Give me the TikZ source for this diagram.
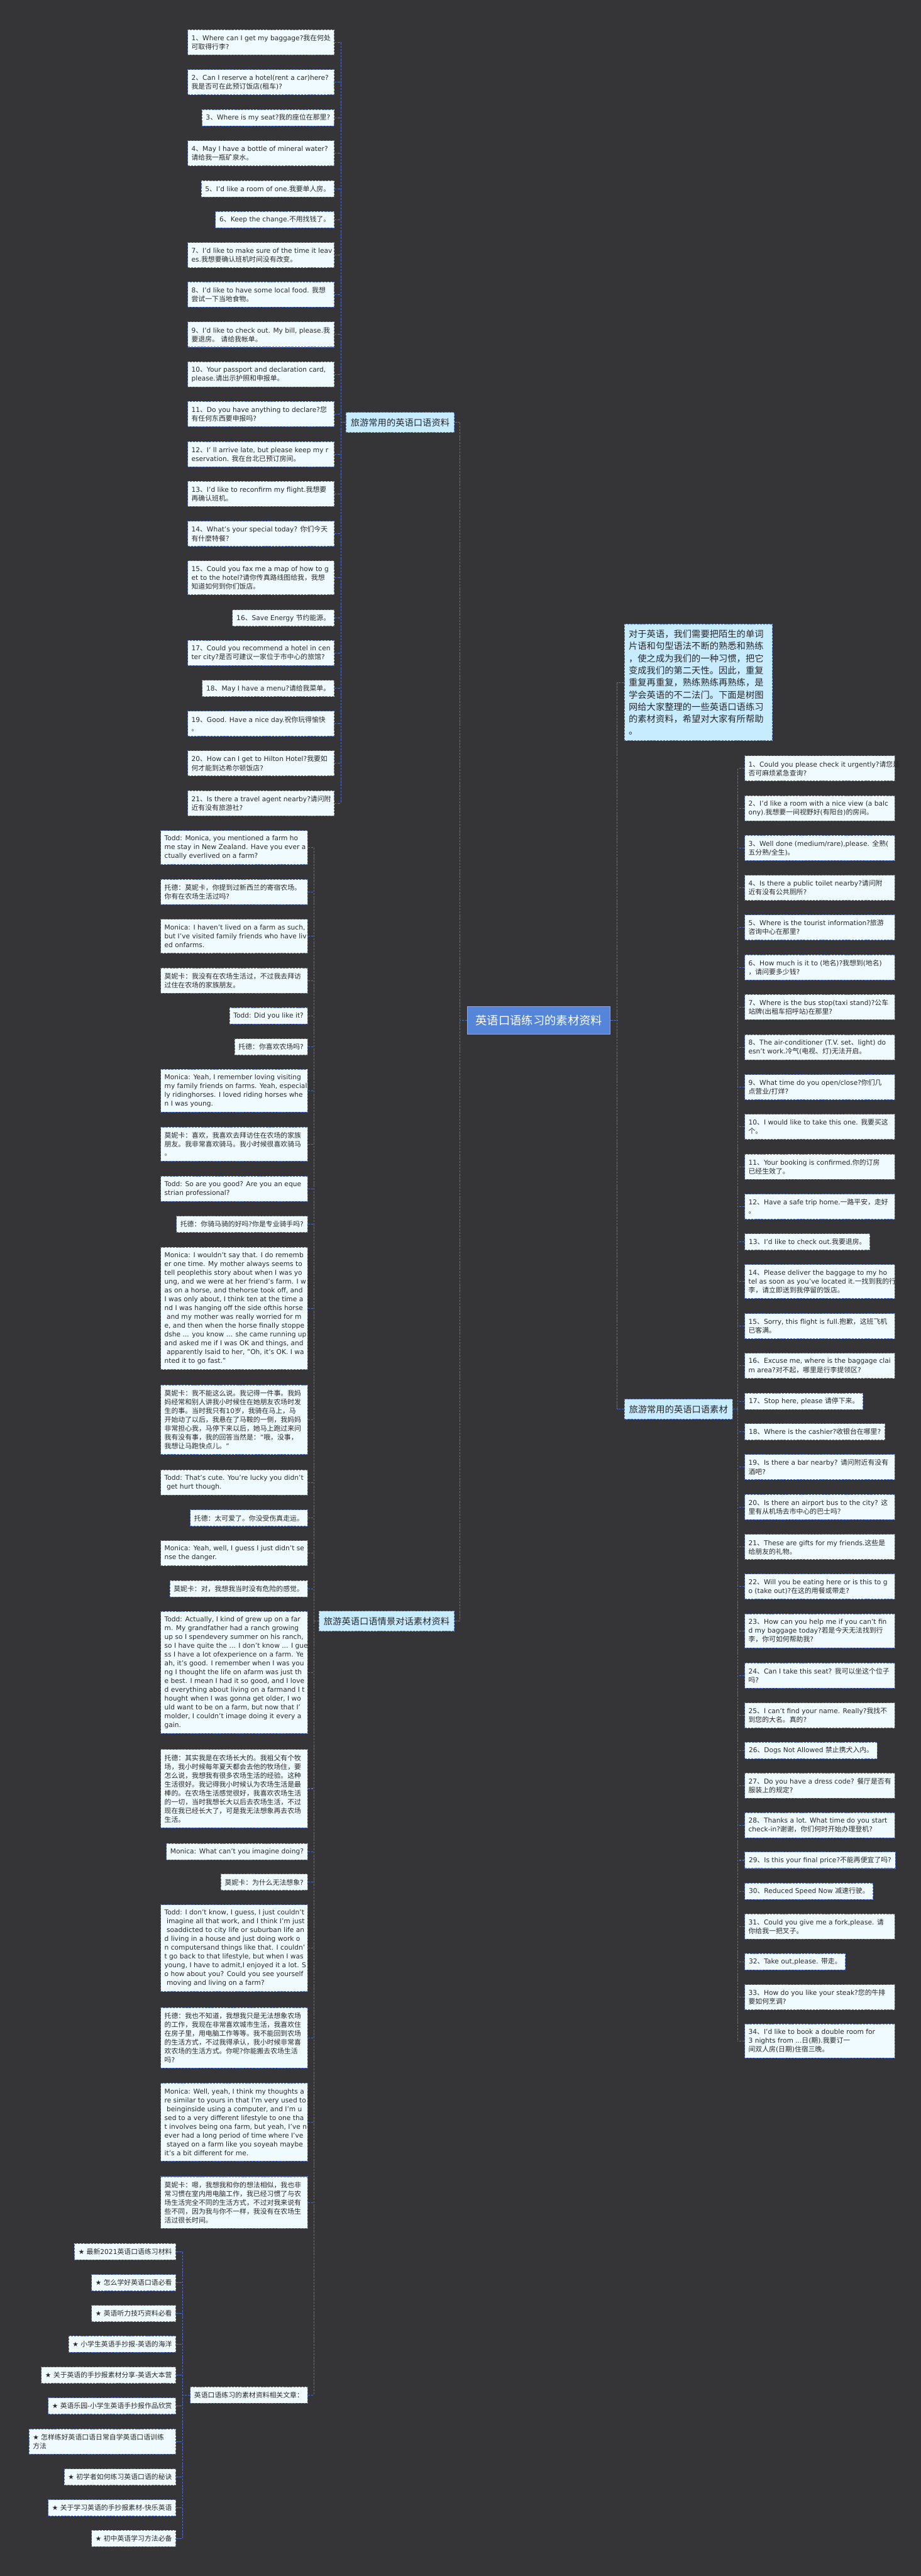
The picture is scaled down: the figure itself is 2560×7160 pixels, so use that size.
\documentclass[tikz,border=0pt]{standalone}
\usepackage{fontspec}
\setmainfont{DejaVu Sans}[Scale=0.98]
\newfontfamily\cjkfont{Noto Sans CJK SC}
\usetikzlibrary{calc}
\XeTeXinterchartokenstate=1
\chardef\cjkcls=8
\makeatletter
\def\setcjkrange#1#2{\count@=#1\relax\loop\XeTeXcharclass\count@=\cjkcls\relax\ifnum\count@<#2\relax\advance\count@\@ne\repeat}
\makeatother
\setcjkrange{"2E80}{"9FFF}
\setcjkrange{"FF00}{"FFEF}
\XeTeXcharclass"2019=0
\XeTeXcharclass"2605=0
\XeTeXcharclass"201C=0
\XeTeXcharclass"201D=0
\XeTeXinterchartoks 0 \cjkcls={\begingroup\cjkfont}
\XeTeXinterchartoks 4095 \cjkcls={\begingroup\cjkfont}
\XeTeXinterchartoks \cjkcls 0={\endgroup}
\XeTeXinterchartoks \cjkcls 4095={\endgroup}
\definecolor{bgc}{RGB}{53,52,55}
\definecolor{leafc}{RGB}{240,251,255}
\definecolor{bordc}{RGB}{78,110,200}
\definecolor{branchc}{RGB}{200,236,255}
\definecolor{centc}{RGB}{84,133,216}
\definecolor{txtc}{RGB}{40,40,40}
\tikzset{
 lbox/.style={draw=bordc, fill=leafc, line width=1.8pt, dash pattern=on 6pt off 3pt, inner sep=0pt},
 ltxt/.style={font=\fontsize{19}{24.5}\selectfont, text=txtc, align=left, inner sep=0pt},
 conn/.style={draw=bordc, line width=1.8pt, dash pattern=on 6pt off 3pt},
 brbox/.style={lbox, fill=branchc, font=\fontsize{25}{30}\selectfont, text=txtc, inner xsep=13pt, minimum height=56pt},
 cbox/.style={draw=bordc!60!white, fill=centc, line width=1.8pt, font=\fontsize{32}{38}\selectfont, text=white, minimum width=397pt, minimum height=78pt},
}
% multi-line leaf, right anchored
\newcommand\mlL[6]{%
 \pgfmathsetmacro\hh{21+24.5*#5}%
 \node[lbox, minimum width=#4, minimum height=\hh, anchor=north east] (#1) at (#2,#3) {};
 \node[ltxt, anchor=west] (#1t) at ($(#1.west)+(11,0)$) {#6};}
% single-line leaf, right anchored
\newcommand\slL[4]{%
 \node[lbox, ltxt, inner xsep=11pt, minimum height=45.5pt, anchor=north east] (#1) at (#2,#3) {#4};}
% multi-line leaf, left anchored
\newcommand\mlR[6]{%
 \pgfmathsetmacro\hh{21+24.5*#5}%
 \node[lbox, minimum width=#4, minimum height=\hh, anchor=north west] (#1) at (#2,#3) {};
 \node[ltxt, anchor=west] (#1t) at ($(#1.west)+(11,0)$) {#6};}
\newcommand\slR[4]{%
 \node[lbox, ltxt, inner xsep=11pt, minimum height=45.5pt, anchor=north west] (#1) at (#2,#3) {#4};}
\begin{document}
\begin{tikzpicture}[x=1pt,y=-1pt]
\useasboundingbox (0,0) rectangle (2560,7160);
\fill[bgc] (0,0) rectangle (2560,7160);
\coordinate (b1) at (948,0);
\coordinate (cl) at (1278,0);
\coordinate (cr) at (1716,0);
\coordinate (b2) at (2052,0);
\coordinate (b3) at (873,0);
\coordinate (b4) at (508,0);

% ---------- centre and branches
\node[cbox] (center) at (1498.5,2836) {英语口语练习的素材资料};
\node[brbox, anchor=east] (br1) at (1264,1174) {旅游常用的英语口语资料};
\node[brbox, anchor=east] (br3) at (1264,4506) {旅游英语口语情景对话素材资料};
\node[brbox, anchor=west] (br2) at (1735,3917) {旅游常用的英语口语素材};
\node[lbox, fill=branchc, minimum width=412, minimum height=324, anchor=north west] (intro) at (1735,1734) {};
\node[ltxt, font=\fontsize{25}{33.7}\selectfont, anchor=west] (introt) at ($(intro.west)+(13,0)$) {对于英语，我们需要把陌生的单词\\片语和句型语法不断的熟悉和熟练\\，使之成为我们的一种习惯，把它\\变成我们的第二天性。因此，重复\\重复再重复，熟练熟练再熟练，是\\学会英语的不二法门。下面是树图\\网给大家整理的一些英语口语练习\\的素材资料，希望对大家有所帮助\\。};

% ---------- group 1
\mlL{g1n1}{930}{82}{407}{2}{1、Where can I get my baggage?我在何处\\可取得行李?}
\mlL{g1n2}{930}{193}{407}{2}{2、Can I reserve a hotel(rent a car)here?\\我是否可在此预订饭店(租车)?}
\slL{g1n3}{930}{304}{3、Where is my seat?我的座位在那里?}
\mlL{g1n4}{930}{390}{407}{2}{4、May I have a bottle of mineral water?\\请给我一瓶矿泉水。}
\slL{g1n5}{930}{501}{5、I'd like a room of one.我要单人房。}
\slL{g1n6}{930}{587}{6、Keep the change.不用找钱了。}
\mlL{g1n7}{930}{673}{407}{2}{7、I'd like to make sure of the time it leav\\es.我想要确认班机时间没有改变。}
\mlL{g1n8}{930}{783}{407}{2}{8、I'd like to have some local food. 我想\\尝试一下当地食物。}
\mlL{g1n9}{930}{894}{407}{2}{9、I'd like to check out. My bill, please.我\\要退房。 请给我帐单。}
\mlL{g1n10}{930}{1005}{407}{2}{10、Your passport and declaration card,\\please.请出示护照和申报单。}
\mlL{g1n11}{930}{1115}{407}{2}{11、Do you have anything to declare?您\\有任何东西要申报吗?}
\mlL{g1n12}{930}{1227}{407}{2}{12、I’ ll arrive late, but please keep my r\\eservation. 我在台北已预订房间。}
\mlL{g1n13}{930}{1337}{407}{2}{13、I'd like to reconfirm my flight.我想要\\再确认班机。}
\mlL{g1n14}{930}{1448}{407}{2}{14、What's your special today? 你们今天\\有什麼特餐？}
\mlL{g1n15}{930}{1558}{407}{3}{15、Could you fax me a map of how to g\\et to the hotel?请你传真路线图给我，我想\\知道如何到你们饭店。}
\slL{g1n16}{930}{1694}{16、Save Energy 节约能源。}
\mlL{g1n17}{930}{1779}{407}{2}{17、Could you recommend a hotel in cen\\ter city?是否可建议一家位于市中心的旅馆?}
\slL{g1n18}{930}{1890}{18、May I have a menu?请给我菜单。}
\mlL{g1n19}{930}{1976}{407}{2}{19、Good. Have a nice day.祝你玩得愉快\\。}
\mlL{g1n20}{930}{2086}{407}{2}{20、How can I get to Hilton Hotel?我要如\\何才能到达希尔顿饭店?}
\mlL{g1n21}{930}{2197}{407}{2}{21、Is there a travel agent nearby?请问附\\近有没有旅游社?}

% ---------- group 3 (dialogue)
\mlL{d1}{856}{2308}{408}{3}{Todd: Monica, you mentioned a farm ho\\me stay in New Zealand. Have you ever a\\ctually everlived on a farm?}
\mlL{d2}{856}{2443}{408}{2}{托德：莫妮卡，你提到过新西兰的寄宿农场。\\你有在农场生活过吗?}
\mlL{d3}{856}{2554}{408}{3}{Monica: I haven't lived on a farm as such,\\but I've visited family friends who have liv\\ed onfarms.}
\mlL{d4}{856}{2690}{408}{2}{莫妮卡：我没有在农场生活过，不过我去拜访\\过住在农场的家族朋友。}
\slL{d5}{856}{2800}{Todd: Did you like it?}
\slL{d6}{856}{2886}{托德：你喜欢农场吗?}
\mlL{d7}{856}{2971}{408}{4}{Monica: Yeah, I remember loving visiting\\my family friends on farms. Yeah, especial\\ly ridinghorses. I loved riding horses whe\\n I was young.}
\mlL{d8}{856}{3132}{408}{3}{莫妮卡：喜欢，我喜欢去拜访住在农场的家族\\朋友。我非常喜欢骑马。我小时候很喜欢骑马\\。}
\mlL{d9}{856}{3268}{408}{2}{Todd: So are you good? Are you an eque\\strian professional?}
\slL{d10}{856}{3379}{托德：你骑马骑的好吗?你是专业骑手吗?}
\mlL{d11}{856}{3466}{408}{13}{Monica: I wouldn't say that. I do rememb\\er one time. My mother always seems to\\tell peoplethis story about when I was yo\\ung, and we were at her friend's farm. I w\\as on a horse, and thehorse took off, and\\I was only about, I think ten at the time a\\nd I was hanging off the side ofthis horse\\\ and my mother was really worried for m\\e, and then when the horse finally stoppe\\dshe ... you know ... she came running up\\and asked me if I was OK and things, and\\\ apparently Isaid to her, "Oh, it's OK. I wa\\nted it to go fast."}
\mlL{d12}{856}{3849}{408}{7}{莫妮卡：我不能这么说。我记得一件事。我妈\\妈经常和别人讲我小时候住在她朋友农场时发\\生的事。当时我只有10岁，我骑在马上，马\\开始动了以后，我悬在了马鞍的一侧，我妈妈\\非常担心我，马停下来以后，她马上跑过来问\\我有没有事，我的回答当然是："哦，没事，\\我想让马跑快点儿。"}
\mlL{d13}{856}{4085}{408}{2}{Todd: That's cute. You're lucky you didn't\\\ get hurt though.}
\slL{d14}{856}{4196}{托德：太可爱了。你没受伤真走运。}
\mlL{d15}{856}{4281}{408}{2}{Monica: Yeah, well, I guess I just didn't se\\nse the danger.}
\slL{d16}{856}{4392}{莫妮卡：对，我想我当时没有危险的感觉。}
\mlL{d17}{856}{4478}{408}{13}{Todd: Actually, I kind of grew up on a far\\m. My grandfather had a ranch growing\\up so I spendevery summer on his ranch,\\so I have quite the ... I don't know ... I gue\\ss I have a lot ofexperience on a farm. Ye\\ah, it's good. I remember when I was you\\ng I thought the life on afarm was just th\\e best. I mean I had it so good, and I love\\d everything about living on a farmand I t\\hought when I was gonna get older, I wo\\uld want to be on a farm, but now that I'\\molder, I couldn't image doing it every a\\gain.}
\mlL{d18}{856}{4862}{408}{8}{托德：其实我是在农场长大的。我祖父有个牧\\场，我小时候每年夏天都会去他的牧场住，要\\怎么说，我想我有很多农场生活的经验。这种\\生活很好。我记得我小时候认为农场生活是最\\棒的。在农场生活感觉很好，我喜欢农场生活\\的一切，当时我想长大以后去农场生活，不过\\现在我已经长大了，可是我无法想象再去农场\\生活。}
\slL{d19}{856}{5123}{Monica: What can't you imagine doing?}
\slL{d20}{856}{5208}{莫妮卡：为什么无法想象?}
\mlL{d21}{856}{5293}{408}{9}{Todd: I don't know, I guess, I just couldn't\\\ imagine all that work, and I think I'm just\\\ soaddicted to city life or suburban life an\\d living in a house and just doing work o\\n computersand things like that. I couldn'\\t go back to that lifestyle, but when I was\\young, I have to admit,I enjoyed it a lot. S\\o how about you? Could you see yourself\\\ moving and living on a farm?}
\mlL{d22}{856}{5579}{408}{6}{托德：我也不知道，我想我只是无法想象农场\\的工作，我现在非常喜欢城市生活，我喜欢住\\在房子里，用电脑工作等等。我不能回到农场\\的生活方式，不过我得承认，我小时候非常喜\\欢农场的生活方式。你呢?你能搬去农场生活\\吗?}
\mlL{d23}{856}{5789}{408}{8}{Monica: Well, yeah, I think my thoughts a\\re similar to yours in that I'm very used to\\\ beinginside using a computer, and I'm u\\sed to a very different lifestyle to one tha\\t involves being ona farm, but yeah, I've n\\ever had a long period of time where I've\\\ stayed on a farm like you soyeah maybe\\it's a bit different for me.}
\mlL{d24}{856}{6049}{408}{5}{莫妮卡：嗯，我想我和你的想法相似，我也非\\常习惯在室内用电脑工作，我已经习惯了与农\\场生活完全不同的生活方式，不过对我来说有\\些不同，因为我与你不一样，我没有在农场生\\活过很长时间。}
\slL{rel}{856}{6633}{英语口语练习的素材资料相关文章：}

% ---------- related articles
\slL{s1}{490}{6235}{★ 最新2021英语口语练习材料}
\slL{s2}{490}{6321}{★ 怎么学好英语口语必看}
\slL{s3}{490}{6407}{★ 英语听力技巧资料必看}
\slL{s4}{490}{6492}{★ 小学生英语手抄报-英语的海洋}
\slL{s5}{490}{6578}{★ 关于英语的手抄报素材分享-英语大本营}
\slL{s6}{490}{6664}{★ 英语乐园-小学生英语手抄报作品欣赏}
\mlL{s7}{490}{6750}{408}{2}{★ 怎样练好英语口语日常自学英语口语训练\\方法}
\slL{s8}{490}{6861}{★ 初学者如何练习英语口语的秘诀}
\slL{s9}{490}{6947}{★ 关于学习英语的手抄报素材-快乐英语}
\slL{s10}{490}{7032}{★ 初中英语学习方法必备}

% ---------- group 2 (right)
\mlR{r1}{2070}{2100}{417}{2}{1、Could you please check it urgently?请您是\\否可麻烦紧急查询?}
\mlR{r2}{2070}{2211}{417}{2}{2、I'd like a room with a nice view (a balc\\ony).我想要一间视野好(有阳台)的房间。}
\mlR{r3}{2070}{2321}{417}{2}{3、Well done (medium/rare),please. 全熟(\\五分熟/全生)。}
\mlR{r4}{2070}{2432}{417}{2}{4、Is there a public toilet nearby?请问附\\近有没有公共厕所?}
\mlR{r5}{2070}{2542}{417}{2}{5、Where is the tourist information?旅游\\咨询中心在那里?}
\mlR{r6}{2070}{2653}{417}{2}{6、How much is it to (地名)?我想到(地名)\\，请问要多少钱?}
\mlR{r7}{2070}{2763}{417}{2}{7、Where is the bus stop(taxi stand)?公车\\站牌(出租车招呼站)在那里?}
\mlR{r8}{2070}{2875}{417}{2}{8、The air-conditioner (T.V. set、light) do\\esn't work.冷气(电视、灯)无法开启。}
\mlR{r9}{2070}{2986}{417}{2}{9、What time do you open/close?你们几\\点营业/打烊?}
\mlR{r10}{2070}{3096}{417}{2}{10、I would like to take this one. 我要买这\\个。}
\mlR{r11}{2070}{3207}{417}{2}{11、Your booking is confirmed.你的订房\\已经生效了。}
\mlR{r12}{2070}{3318}{417}{2}{12、Have a safe trip home.一路平安，走好\\。}
\slR{r13}{2070}{3428}{13、I'd like to check out.我要退房。}
\mlR{r14}{2070}{3514}{417}{3}{14、Please deliver the baggage to my ho\\tel as soon as you've located it.一找到我的行\\李，请立即送到我停留的饭店。}
\mlR{r15}{2070}{3650}{417}{2}{15、Sorry, this flight is full.抱歉，这班飞机\\已客满。}
\mlR{r16}{2070}{3760}{417}{2}{16、Excuse me, where is the baggage clai\\m area?对不起，哪里是行李提领区?}
\slR{r17}{2070}{3871}{17、Stop here, please 请停下来。}
\slR{r18}{2070}{3956}{18、Where is the cashier?收银台在哪里?}
\mlR{r19}{2070}{4042}{417}{2}{19、Is there a bar nearby? 请问附近有没有\\酒吧?}
\mlR{r20}{2070}{4153}{417}{2}{20、Is there an airport bus to the city? 这\\里有从机场去市中心的巴士吗？}
\mlR{r21}{2070}{4264}{417}{2}{21、These are gifts for my friends.这些是\\给朋友的礼物。}
\mlR{r22}{2070}{4374}{417}{2}{22、Will you be eating here or is this to g\\o (take out)?在这的用餐或带走?}
\mlR{r23}{2070}{4485}{417}{3}{23、How can you help me if you can't fin\\d my baggage today?若是今天无法找到行\\李，你可如何帮助我?}
\mlR{r24}{2070}{4621}{417}{2}{24、Can I take this seat? 我可以坐这个位子\\吗?}
\mlR{r25}{2070}{4732}{417}{2}{25、I can't find your name. Really?我找不\\到您的大名。真的?}
\slR{r26}{2070}{4842}{26、Dogs Not Allowed 禁止携犬入内。}
\mlR{r27}{2070}{4927}{417}{2}{27、Do you have a dress code? 餐厅是否有\\服装上的规定?}
\mlR{r28}{2070}{5037}{417}{2}{28、Thanks a lot. What time do you start\\check-in?谢谢，你们何时开始办理登机?}
\slR{r29}{2070}{5147}{29、Is this your final price?不能再便宜了吗?}
\slR{r30}{2070}{5233}{30、Reduced Speed Now 减速行驶。}
\mlR{r31}{2070}{5319}{417}{2}{31、Could you give me a fork,please. 请\\你给我一把叉子。}
\slR{r32}{2070}{5429}{32、Take out,please. 带走。}
\mlR{r33}{2070}{5515}{417}{2}{33、How do you like your steak?您的牛排\\要如何烹调?}
\mlR{r34}{2070}{5625}{417}{3}{34、I'd like to book a double room for\\3 nights from ...日(期).我要订一\\间双人房(日期)住宿三晚。}

% ---------- connectors
\draw[conn] (center.west) -- (center.west -| cl);
\draw[conn] (br1.east -| cl) -- (br3.east -| cl);
\draw[conn] (br1.east) -- (br1.east -| cl);
\draw[conn] (br3.east) -- (br3.east -| cl);
\draw[conn] (center.east) -- (center.east -| cr);
\draw[conn] (intro.west -| cr) -- (br2.west -| cr);
\draw[conn] (intro.west) -- (intro.west -| cr);
\draw[conn] (br2.west) -- (br2.west -| cr);
% group 1
\draw[conn] (br1.west) -- (br1.west -| b1);
\draw[conn] (g1n1.east -| b1) -- (g1n21.east -| b1);
\foreach \n in {1,...,21} \draw[conn] (g1n\n.east) -- (g1n\n.east -| b1);
% group 2
\draw[conn] (br2.east) -- (br2.east -| b2);
\draw[conn] (r1.west -| b2) -- (r34.west -| b2);
\foreach \n in {1,...,34} \draw[conn] (r\n.west) -- (r\n.west -| b2);
% dialogue
\draw[conn] (br3.west) -- (br3.west -| b3);
\draw[conn] (d1.east -| b3) -- (rel.east -| b3);
\foreach \n in {1,...,24} \draw[conn] (d\n.east) -- (d\n.east -| b3);
\draw[conn] (rel.east) -- (rel.east -| b3);
% related
\draw[conn] (rel.west) -- (rel.west -| b4);
\draw[conn] (s1.east -| b4) -- (s10.east -| b4);
\foreach \n in {1,...,10} \draw[conn] (s\n.east) -- (s\n.east -| b4);
\end{tikzpicture}
\end{document}
